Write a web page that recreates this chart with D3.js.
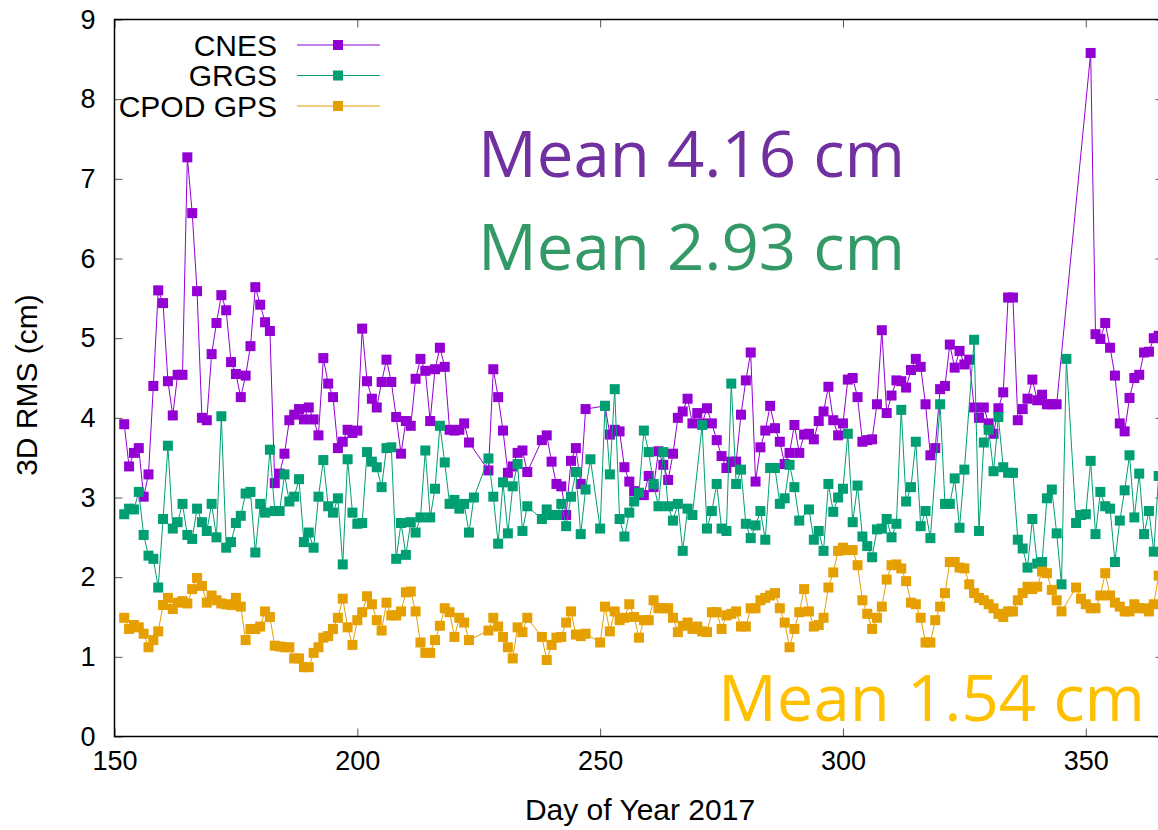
<!DOCTYPE html>
<html>
<head>
<meta charset="utf-8">
<script src="https://cdn.jsdelivr.net/npm/d3@7"></script>
<style>
  body { margin: 0; background: #fff; }
  svg { display: block; font-family: "Liberation Sans", Arial, sans-serif; }
</style>
</head>
<body>
<svg id="chart" width="1158" height="830"></svg>
<script>
// day of year 2017
var days = [152,153,154,155,156,157,158,159,160,161,162,163,164,165,166,167,168,169,170,171,
  172,173,174,175,176,177,178,179,180,181,182,183,184,185,186,187,188,189,190,191,
  192,193,194,195,196,197,198,199,200,201,202,203,204,205,206,207,208,209,210,211,
  212,213,214,215,216,217,218,219,220,221,222,223,224,225,226,227,228,229,230,231,
  232,233,234,235,236,237,238,239,240,241,242,243,244,245,246,247,248,249,250,251,
  252,253,254,255,256,257,258,259,260,261,262,263,264,265,266,267,268,269,270,271,
  272,273,274,275,276,277,278,279,280,281,282,283,284,285,286,287,288,289,290,291,
  292,293,294,295,296,297,298,299,300,301,302,303,304,305,306,307,308,309,310,311,
  312,313,314,315,316,317,318,319,320,321,322,323,324,325,326,327,328,329,330,331,
  332,333,334,335,336,337,338,339,340,341,342,343,344,345,346,347,348,349,350,351,
  352,353,354,355,356,357,358,359,360,361,362,363,364,365];

// 3D RMS (cm), null = no solution that day
var cnes = [3.92,3.39,3.56,3.62,3.01,3.29,4.40,5.60,5.44,4.46,4.03,4.54,4.54,7.27,6.57,5.59,4.00,3.97,4.80,5.19,
  5.54,5.35,4.70,4.55,4.26,4.53,4.90,5.64,5.42,5.20,5.09,3.18,3.30,3.55,3.97,4.04,4.11,3.98,4.13,3.98,
  3.78,4.75,4.43,4.26,3.62,3.70,3.85,3.81,3.84,5.12,4.46,4.24,4.13,4.45,4.73,4.45,4.01,3.55,3.96,3.90,
  4.49,4.74,4.59,3.96,4.61,4.88,4.64,3.85,3.84,3.85,3.93,3.69,null,null,null,3.34,4.61,4.26,3.84,3.31,
  3.39,3.56,3.59,3.32,null,null,3.72,3.78,3.45,3.17,3.14,2.78,3.46,3.62,3.17,4.11,null,null,null,4.15,
  3.79,3.85,3.83,3.38,3.20,3.08,3.04,3.03,3.27,3.13,3.58,3.41,3.22,3.55,4.00,4.08,4.24,3.93,4.06,3.93,
  4.12,3.93,3.72,3.52,3.37,3.45,3.45,4.04,4.47,4.82,3.20,3.63,3.84,4.15,3.87,3.70,3.42,3.56,3.91,3.56,
  3.79,3.80,3.73,3.96,4.08,4.39,3.97,3.78,3.93,4.48,4.50,4.26,3.70,3.72,3.73,4.17,5.10,4.06,4.28,4.47,
  4.46,4.38,4.60,4.74,4.64,4.17,3.53,3.62,4.36,4.40,4.92,4.63,4.84,4.67,4.73,4.13,4.00,4.13,3.93,3.80,
  4.12,4.32,5.51,5.51,3.97,4.11,4.24,4.48,4.22,4.29,4.17,4.17,4.17,null,null,null,null,null,null,8.58,
  5.05,4.99,5.19,4.88,4.53,3.93,3.83,4.25,4.50,4.54,4.82,4.83,5.00,5.03];

var grgs = [2.79,2.86,2.85,3.07,2.53,2.27,2.23,1.87,2.73,3.65,2.61,2.69,2.92,2.53,2.48,2.86,2.69,2.58,2.92,2.50,
  4.02,2.37,2.44,2.68,2.77,3.05,3.07,2.31,2.92,2.81,3.60,2.83,2.83,3.29,2.95,3.01,3.23,2.44,2.56,2.37,
  3.01,3.47,2.89,2.81,2.99,2.16,3.48,2.81,2.67,2.68,3.57,3.45,3.38,3.13,3.62,3.63,2.23,2.68,2.28,2.69,
  2.56,2.75,3.59,2.75,3.11,3.90,3.44,2.92,2.97,2.86,2.92,2.56,3.00,null,null,3.49,3.01,2.42,3.19,2.55,
  3.14,3.42,2.58,2.89,null,null,2.73,2.85,2.78,2.78,2.92,2.64,3.01,3.32,2.54,3.10,3.48,null,2.61,4.15,
  3.29,4.36,2.73,2.51,2.81,2.95,3.06,3.84,3.57,3.17,2.89,3.57,2.89,2.71,2.92,2.33,2.86,2.78,null,3.91,
  2.61,2.83,3.17,2.61,2.58,4.43,3.17,3.35,2.67,2.49,2.65,2.83,2.47,3.37,3.37,2.92,2.99,3.41,3.13,2.71,
  null,2.85,2.47,2.58,2.33,3.17,2.82,3.00,3.11,3.80,2.69,3.15,2.51,2.39,2.25,2.60,2.61,2.73,2.50,2.67,
  4.10,2.95,3.13,3.70,2.64,2.83,2.49,null,4.17,2.92,2.92,3.24,2.62,3.35,null,4.98,2.58,3.69,3.85,3.33,
  4.01,3.38,3.31,3.31,2.47,2.36,2.12,2.73,2.17,2.19,2.99,3.10,2.55,1.91,4.74,null,2.68,2.78,2.79,3.46,
  2.54,3.07,2.89,2.86,2.19,2.71,3.09,3.53,2.75,3.30,2.54,2.83,2.32,3.27];

var cpod = [1.49,1.35,1.40,1.37,1.29,1.12,1.21,1.32,1.65,1.74,1.60,1.68,1.70,1.67,1.85,1.99,1.89,1.68,1.77,1.71,
  1.67,1.66,1.65,1.74,1.63,1.21,1.35,1.35,1.38,1.57,1.50,1.14,1.13,1.12,1.12,0.98,0.98,0.87,0.87,1.05,
  1.12,1.24,1.26,1.35,1.49,1.73,1.37,1.15,1.46,1.56,1.76,1.66,1.46,1.33,1.68,1.52,1.52,1.57,1.81,1.82,
  1.57,1.18,1.05,1.05,1.21,1.39,1.61,1.56,1.25,1.49,1.43,1.21,null,null,null,1.33,1.49,1.38,1.25,1.12,
  0.98,1.37,1.31,1.49,null,null,1.25,0.96,1.15,1.24,1.25,1.43,1.57,1.28,1.26,1.29,null,null,1.18,1.63,
  1.32,1.57,1.46,1.49,1.66,1.50,1.24,1.46,1.46,1.71,1.61,1.61,1.61,1.49,1.31,1.39,1.43,1.35,1.38,1.32,
  1.31,1.56,1.56,1.35,1.52,1.54,1.57,1.38,1.38,1.61,1.61,1.71,1.74,1.77,1.80,1.61,1.43,1.12,1.35,1.56,
  1.85,1.57,1.38,1.40,1.49,1.87,2.06,2.33,2.37,2.34,2.34,2.15,1.71,1.54,1.35,1.49,1.63,1.97,2.15,2.16,
  2.11,1.95,1.68,1.66,1.49,1.18,1.18,1.46,1.63,1.80,2.19,2.19,2.12,2.11,1.91,1.80,1.74,1.71,1.66,1.61,
  1.54,1.50,1.57,1.57,1.71,1.80,1.88,1.85,1.88,2.07,2.05,1.84,1.71,1.57,null,null,1.87,1.73,1.66,1.61,
  1.61,1.77,2.05,1.77,1.68,1.63,1.57,1.57,1.66,1.61,1.61,1.57,1.66,2.02];

var seriesNames = ["CNES", "GRGS", "CPOD GPS"];
var seriesColors = ["#9400d3", "#009e73", "#e69f00"];
var meanLabels = ["Mean 4.16 cm", "Mean 2.93 cm", "Mean 1.54 cm"];
var meanColors = ["#7030a0", "#339966", "#ffc000"];
var xTicks = [150, 200, 250, 300, 350];
var yTicks = [0, 1, 2, 3, 4, 5, 6, 7, 8, 9];

var svg = d3.select("#chart");

var x = d3.scaleLinear().domain([150, 366]).range([114.5, 1163.5]);
var y = d3.scaleLinear().domain([0, 9]).range([736.5, 19.5]);

// ticks (gnuplot style, pointing inward, mirrored)
svg.append("g")
    .attr("transform", "translate(" + x.range()[0] + ",0)")
    .call(d3.axisLeft(y).tickValues(yTicks).tickSize(-8).tickPadding(19))
    .call(g => g.select(".domain").remove())
    .call(g => g.selectAll("text").style("font-size", "27px").style("font-family", null).attr("fill", "#000"));
svg.append("g")
    .attr("transform", "translate(" + x.range()[1] + ",0)")
    .call(d3.axisRight(y).tickValues(yTicks).tickSize(-8).tickFormat(""))
    .call(g => g.select(".domain").remove());
svg.append("g")
    .attr("transform", "translate(0," + y.range()[0] + ")")
    .call(d3.axisBottom(x).tickValues(xTicks).tickSize(-8).tickPadding(14))
    .call(g => g.select(".domain").remove())
    .call(g => g.selectAll("text").style("font-size", "27px").attr("fill", "#000").attr("dy", "0.71em"));
svg.append("g")
    .attr("transform", "translate(0," + y.range()[1] + ")")
    .call(d3.axisTop(x).tickValues(xTicks).tickSize(-8).tickFormat(""))
    .call(g => g.select(".domain").remove());
svg.selectAll("g").attr("font-family", null).attr("font-size", null);
svg.selectAll(".tick line").attr("stroke", "#555");

// frame
svg.append("rect")
    .attr("x", x.range()[0]).attr("y", y.range()[1])
    .attr("width", x.range()[1] - x.range()[0])
    .attr("height", y.range()[0] - y.range()[1])
    .attr("fill", "none").attr("stroke", "#000").attr("stroke-width", 1.5);

// axis titles
svg.append("text")
    .attr("x", 640).attr("y", 820)
    .attr("text-anchor", "middle").style("font-size", "30px")
    .text("Day of Year 2017");
svg.append("text")
    .attr("transform", "translate(37,385) rotate(-90)")
    .attr("text-anchor", "middle").style("font-size", "30px")
    .text("3D RMS (cm)");

// series
var plot = svg.append("g");
var line = d3.line().x(d => x(d[0])).y(d => y(d[1]));
var sz = 10;

[cnes, grgs, cpod].forEach(function(vals, i) {
    var pts = days.map((d, k) => [d, vals[k]]).filter(p => p[1] != null);
    plot.append("path")
        .attr("d", line(pts))
        .attr("fill", "none")
        .attr("stroke", seriesColors[i])
        .attr("stroke-width", 1);
    plot.selectAll(null).data(pts).enter().append("rect")
        .attr("x", d => x(d[0]) - sz / 2)
        .attr("y", d => y(d[1]) - sz / 2)
        .attr("width", sz).attr("height", sz)
        .attr("fill", seriesColors[i]);
});

// legend
var legend = svg.append("g");
seriesNames.forEach(function(name, i) {
    var cy = 45 + i * 30.5;
    legend.append("text")
        .attr("x", 277).attr("y", cy + 10.5)
        .attr("text-anchor", "end").style("font-size", "30px")
        .text(name);
    legend.append("line")
        .attr("x1", 297).attr("x2", 380).attr("y1", cy).attr("y2", cy)
        .attr("stroke", seriesColors[i]).attr("stroke-width", 1);
    legend.append("rect")
        .attr("x", 338 - sz / 2).attr("y", cy - sz / 2)
        .attr("width", sz).attr("height", sz)
        .attr("fill", seriesColors[i]);
});

// mean annotations
var meanPos = [[478, 177], [478, 270], [718, 721]];
meanLabels.forEach(function(t, i) {
    svg.append("text")
        .attr("x", meanPos[i][0]).attr("y", meanPos[i][1])
        .style("font-family", "'Open Sans', 'Noto Sans', sans-serif")
        .style("font-size", "64px")
        .attr("textLength", 427).attr("lengthAdjust", "spacingAndGlyphs")
        .attr("fill", meanColors[i])
        .text(t);
});
</script>
</body>
</html>
